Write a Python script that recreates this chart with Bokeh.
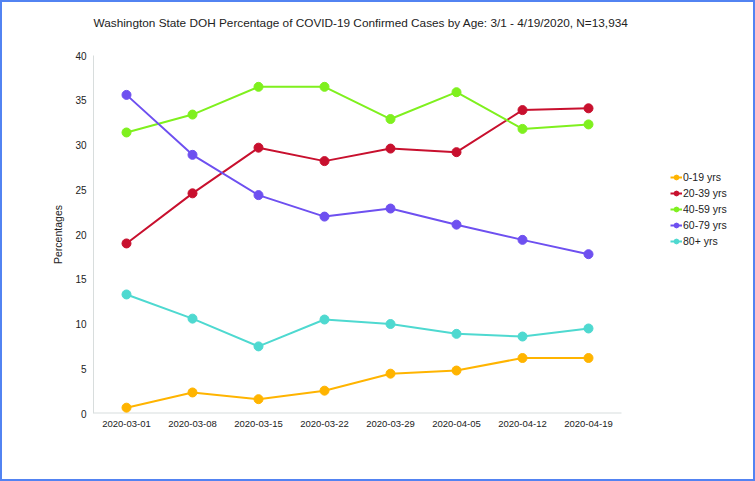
from bokeh.plotting import figure
from bokeh.models import Range1d, Legend, LegendItem, FixedTicker, Title
from bokeh.embed import file_html
from bokeh.resources import INLINE

dates = ["2020-03-01", "2020-03-08", "2020-03-15", "2020-03-22",
         "2020-03-29", "2020-04-05", "2020-04-12", "2020-04-19"]
age_0_19 = [0.65, 2.35, 1.6, 2.55, 4.45, 4.8, 6.2, 6.2]
age_20_39 = [19.0, 24.6, 29.7, 28.2, 29.6, 29.2, 33.9, 34.1]
age_40_59 = [31.4, 33.4, 36.5, 36.5, 32.9, 35.9, 31.8, 32.3]
age_60_79 = [35.6, 28.9, 24.4, 22.0, 22.9, 21.1, 19.4, 17.8]
age_80 = [13.3, 10.6, 7.5, 10.5, 10.0, 8.9, 8.6, 9.5]
series_names = ["0-19 yrs", "20-39 yrs", "40-59 yrs", "60-79 yrs", "80+ yrs"]
series_values = [age_0_19, age_20_39, age_40_59, age_60_79, age_80]
series_colors = ["#FFB400", "#C8102E", "#7FF01E", "#6E50F0", "#4ED9D0"]
y_ticks = [0, 5, 10, 15, 20, 25, 30, 35, 40]
title_text = "Washington State DOH Percentage of COVID-19 Confirmed Cases by Age: 3/1 - 4/19/2020, N=13,934"

FONT = "Liberation Sans"
xs = list(range(len(dates)))
FRAME_W = 654
SLOT = 66.0
x_end = -0.5 + FRAME_W / SLOT

p = figure(width=755, height=481, x_range=Range1d(-0.5, x_end), y_range=Range1d(0, 40),
           output_backend="svg", toolbar_location=None, title=None,
           min_border_left=91, min_border_top=53, min_border_right=10, min_border_bottom=70,
           styles={"border": "2px solid #5283F2"})
p.outline_line_color = None
p.xgrid.grid_line_color = None
p.ygrid.grid_line_color = None

# spacer between the title and the plot area
p.add_layout(Title(text=" ", text_font_size="1px", standoff=21), "above")
p.add_layout(Title(text=title_text, align="left", text_font=FONT, text_font_size="11.8px",
                   text_font_style="normal", text_color="#222222", standoff=4), "above")

for ax in (p.xaxis[0], p.yaxis[0]):
    ax.axis_line_color = "#D8DDDD"
    ax.axis_line_width = 1
    ax.major_tick_line_color = None
    ax.minor_tick_line_color = None
    ax.major_tick_out = 0
    ax.major_tick_in = 0
    ax.major_label_text_font = FONT
    ax.major_label_text_color = "#222222"

p.xaxis.axis_line_color = None
p.xaxis.ticker = FixedTicker(ticks=xs)
p.xaxis.major_label_overrides = {i: d for i, d in zip(xs, dates)}
p.xaxis.major_label_text_font_size = "9.5px"
p.yaxis.major_label_text_font_size = "10px"
p.yaxis.ticker = y_ticks
p.yaxis.major_label_standoff = 7
p.xaxis.major_label_standoff = 7
p.yaxis.axis_label = "Percentages"
p.yaxis.axis_label_text_font = FONT
p.yaxis.axis_label_text_font_size = "10.5px"
p.yaxis.axis_label_text_font_style = "normal"
p.yaxis.axis_label_text_color = "#222222"
p.yaxis.axis_label_standoff = 8

# x axis baseline spanning only the category slots
p.segment(x0=[-0.5], y0=[0], x1=[len(dates) - 0.5], y1=[0], line_color="#D8DDDD", line_width=2)

items = []
for name, vals, col in zip(series_names, series_values, series_colors):
    l = p.line(xs, vals, line_color=col, line_width=2)
    s = p.scatter(xs, vals, size=9, fill_color=col, line_color=col)
    items.append(LegendItem(label=name, renderers=[l, s]))

legend = Legend(items=items, location=(577, 166))
legend.border_line_color = None
legend.background_fill_alpha = 0
legend.padding = 0
legend.margin = 0
legend.spacing = 4
legend.glyph_width = 12
legend.glyph_height = 12
legend.label_height = 12
legend.label_standoff = 1
legend.label_text_font = FONT
legend.label_text_font_size = "10.5px"
legend.label_text_color = "#222222"
legend.label_text_baseline = "middle"
p.add_layout(legend, "center")

open("out.html", "w").write(file_html(p, INLINE))
